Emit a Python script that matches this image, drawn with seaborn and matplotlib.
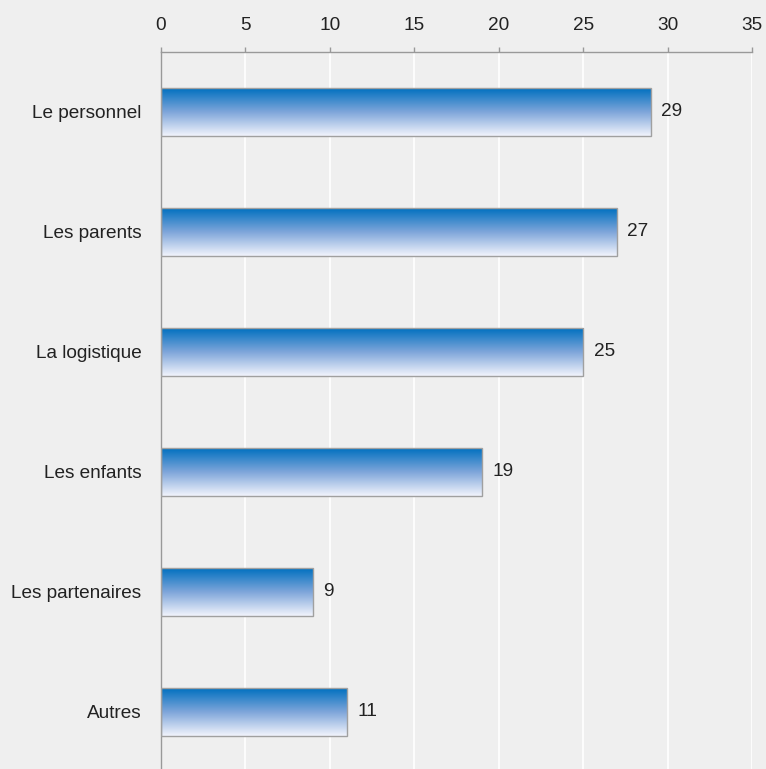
import numpy as np
import pandas as pd
import matplotlib
matplotlib.use("Agg")
import matplotlib.pyplot as plt
import seaborn as sns
from matplotlib.colors import LinearSegmentedColormap

categories = ["Le personnel", "Les parents", "La logistique", "Les enfants", "Les partenaires", "Autres"]
values = [29, 27, 25, 19, 9, 11]
xticks = [0, 5, 10, 15, 20, 25, 30, 35]

df = pd.DataFrame({"cat": categories, "val": values})

sns.set_theme(style="white")
plt.rcParams['font.family'] = ['Liberation Sans', 'DejaVu Sans']

FS = 13.7

fig = plt.figure(figsize=(7.66, 7.69), dpi=100)
fig.patch.set_facecolor("#efefef")
ax = fig.add_axes([161/766, 1-772/769, 591/766, 720/769])
ax.set_facecolor("#efefef")

sns.barplot(data=df, x="val", y="cat", orient="h", width=0.4, color="#0070c0",
            edgecolor="#a0a0a0", linewidth=1, ax=ax, zorder=3)

ax.set_xlim(0, 35)
ax.set_ylim(5.5, -0.5)

cmap = LinearSegmentedColormap.from_list("g", ["#0070c0", "#7fa6da", "#f2f4fc"])
grad = np.linspace(0, 1, 256).reshape(-1, 1)
for p in list(ax.patches):
    x0, y0 = p.get_x(), p.get_y()
    w, h = p.get_width(), p.get_height()
    p.set_facecolor("none")
    im = ax.imshow(grad, cmap=cmap, aspect="auto", extent=(x0, x0 + w, y0 + h, y0),
                   origin="upper", zorder=2.5)
    im.set_clip_path(p)
ax.set_xlim(0, 35)
ax.set_ylim(5.5, -0.5)

for i, v in enumerate(values):
    ax.text(v + 0.62, i, str(v), va="center", ha="left", fontsize=FS, color="#222222", zorder=4)

ax.xaxis.tick_top()
ax.set_xticks(xticks)
ax.set_xticklabels([str(t) for t in xticks], fontsize=FS, color="#222222")
ax.tick_params(axis="x", direction="out", length=3.6, color="#999999", pad=9, width=1)
ax.grid(axis="x", color="white", linewidth=1.2, zorder=0)
ax.set_axisbelow(True)

ax.set_yticks(range(len(categories)))
ax.set_yticklabels(categories, fontsize=FS, color="#222222")
ax.tick_params(axis="y", which="major", length=0, pad=14)
ax.set_yticks(np.arange(0.5, 5.5, 1), minor=True)
ax.tick_params(axis="y", which="minor", length=3.6, color="#999999", direction="out", width=1)
ax.set_xlabel("")
ax.set_ylabel("")

for s in ["right", "bottom"]:
    ax.spines[s].set_visible(False)
for s in ["left", "top"]:
    ax.spines[s].set_color("#999999")
    ax.spines[s].set_linewidth(1)

fig.savefig("out.png", dpi=100, facecolor=fig.get_facecolor())
